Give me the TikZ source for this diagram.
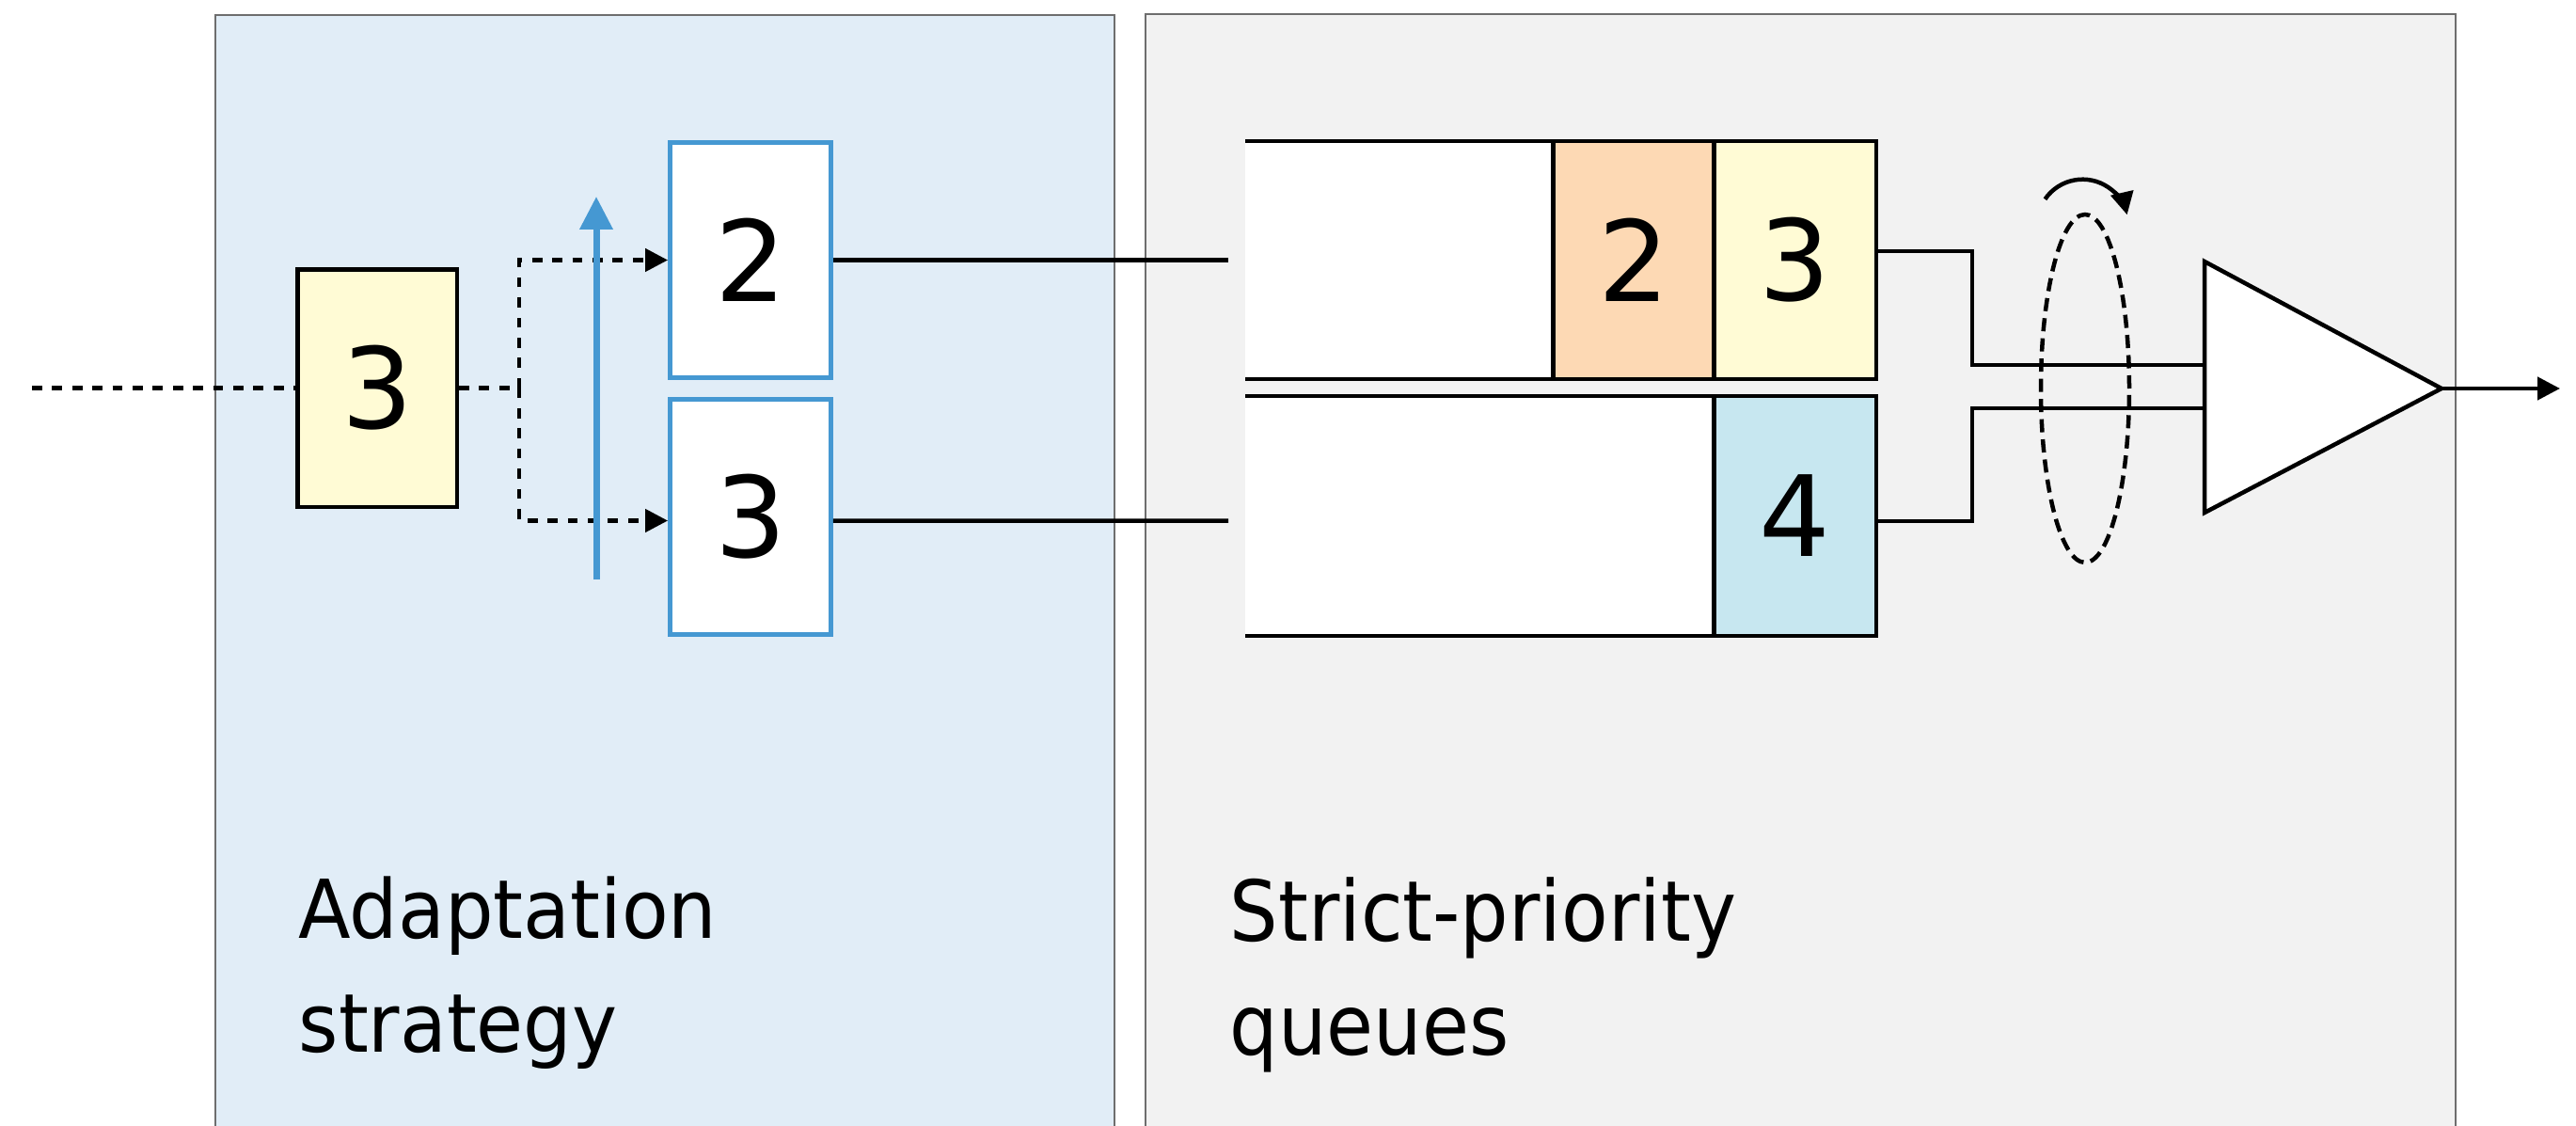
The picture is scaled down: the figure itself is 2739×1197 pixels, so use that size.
\documentclass[tikz,border=0pt]{standalone}
\usepackage{fontspec}
\usepackage{graphicx}
\setmainfont{DejaVu Sans}
\usetikzlibrary{arrows.meta}

\definecolor{paneblue}{RGB}{225,237,247}
\definecolor{panegray}{RGB}{242,242,242}
\definecolor{paneedge}{RGB}{110,110,110}
\definecolor{pktyellow}{RGB}{255,251,213}
\definecolor{pktorange}{RGB}{253,217,180}
\definecolor{pktblue}{RGB}{199,231,240}
\definecolor{slotblue}{RGB}{69,152,210}

\begin{document}
\begin{tikzpicture}[x=0.1mm,y=-0.1mm,
  pane/.style={draw=paneedge,line width=0.23mm},
  digit/.style={font=\fontsize{33.9}{40}\selectfont,inner sep=0pt},
  packet/.style={digit,draw=black,line width=0.45mm},
  slot/.style={digit,draw=slotblue,line width=0.54mm,fill=white,
    minimum width=17.05mm,minimum height=24.95mm},
  queuebody/.style={fill=white,inner sep=0pt,outer sep=0pt,minimum width=67.1mm},
  flow/.style={line width=0.45mm,dash pattern=on 1.07mm off 1.07mm},
  wire/.style={line width=0.45mm},
  tip/.style={-{Triangle[length=2.4mm,width=2.4mm]}},
  label/.style={inner sep=0pt,anchor=base west}
]
\useasboundingbox (0,0) rectangle (2739,1197);

% background panels
\begin{scope}
  \clip (0,0) rectangle (2739,1197);
  \path[pane,fill=paneblue] (229,16) rectangle (1185,1240);
  \path[pane,fill=panegray] (1218,15) rectangle (2611,1240);
\end{scope}

% incoming packet and adaptation
\node[packet,fill=pktyellow,minimum width=16.95mm,minimum height=25.25mm] (pkt) at (401,412.5) {3};
\node[slot] (b2) at (798,276.5) {2};
\node[slot] (b3) at (798,549.5) {3};

\coordinate (src) at (34,412.5);
\coordinate (fork) at (552,412.5);
\draw[flow] (src) -- (pkt.west);
\draw[flow] (pkt.east) -- (fork);
\draw[flow,tip] (fork) |- (b2.west);
\draw[flow,tip] (fork) |- ([yshift=-0.4mm]b3.west);

\coordinate (sbot) at (634,616);
\coordinate (stop) at (634,209);
\draw[slotblue,line width=0.7mm,-{Triangle[length=3.5mm,width=3.4mm]}] (sbot) -- (stop);

% links to the queues
\coordinate (q1in) at (1306,276.5);
\coordinate (q2in) at (1306,553.5);
\draw[wire] (b2.east) -- (q1in);
\draw[wire] ([yshift=-0.4mm]b3.east) -- (q2in);

% strict-priority queues
\node[queuebody,minimum height=25.3mm] (q1) at (1659.5,276.5) {};
\node[queuebody,minimum height=25.5mm] (q2) at (1659.5,548.5) {};
\draw[wire] (q1.north west) -- (q1.north east) (q1.south west) -- (q1.south east);
\draw[wire] (q2.north west) -- (q2.north east) (q2.south west) -- (q2.south east);

\node[packet,fill=pktorange,minimum width=17.08mm,minimum height=25.3mm] (c2) at (1736.9,276.5) {2};
\node[packet,fill=pktyellow,minimum width=17.27mm,minimum height=25.3mm] (c3) at (1908.65,276.5) {3};
\node[packet,fill=pktblue,minimum width=17.27mm,minimum height=25.5mm] (c4) at (1908.65,548.5) {4};

% scheduler
\coordinate (k1) at (2097,388);
\coordinate (m1) at (2344,388);
\coordinate (k2) at (2097,434);
\coordinate (m2) at (2344,434);
\draw[wire] ([yshift=0.95mm]c3.east) -| (k1) -- (m1);
\draw[wire] ([yshift=-0.55mm]c4.east) -| (k2) -- (m2);

\coordinate (mt) at (2344,278);
\coordinate (mb) at (2344,545);
\coordinate (mo) at (2596,413);
\coordinate (out) at (2722,413);
\draw[wire,fill=white,line join=miter] (mt) -- (mo) -- (mb) -- cycle;
\draw[wire,tip] (mo) -- (out);

\draw[wire,dash pattern=on 1.4mm off 0.75mm] (2217,413) ellipse [x radius=4.7mm,y radius=18.5mm];
\draw[wire,tip] (2214.4,239.2) ++(145.5:4.85mm) arc[start angle=145.5,end angle=13,radius=4.85mm];

% panel captions
\node[label,font=\fontsize{24.6}{30}\selectfont] (capA1) at (317,997) {\scalebox{0.94}[1]{Adaptation}};
\node[label,font=\fontsize{24.6}{30}\selectfont] (capA2) at (317,1118) {\scalebox{0.94}[1]{strategy}};
\node[label,font=\fontsize{25.4}{30}\selectfont] (capB1) at (1307,1000) {\scalebox{0.91}[1]{Strict-priority}};
\node[label,font=\fontsize{25.4}{30}\selectfont] (capB2) at (1307,1121.5) {\scalebox{0.91}[1]{queues}};
\end{tikzpicture}
\end{document}
